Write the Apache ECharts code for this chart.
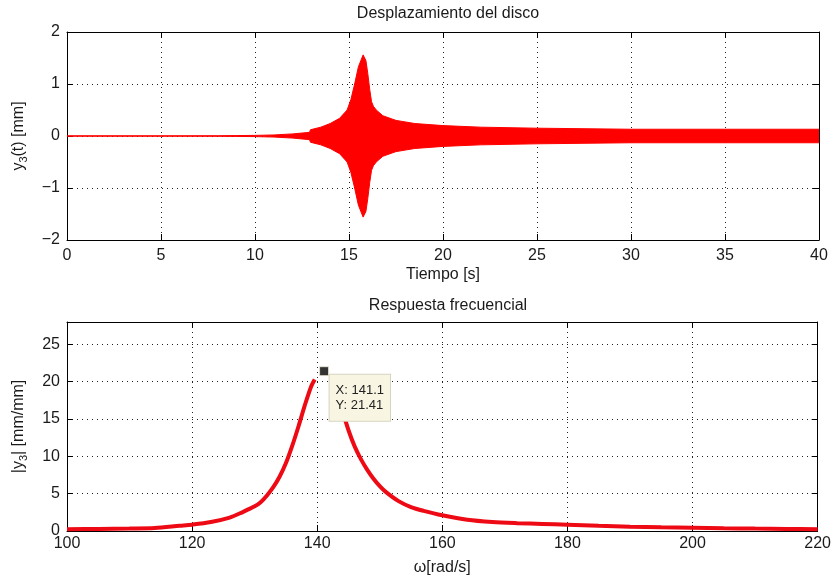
<!DOCTYPE html>
<html>
<head>
<meta charset="utf-8">
<script src="https://cdn.jsdelivr.net/npm/echarts@6/dist/echarts.min.js"></script>
<style>
html,body{margin:0;padding:0;background:#fff;}
#chart{width:834px;height:579px;}
</style>
</head>
<body>
<div id="chart"></div>
<script>
// ---- Top plot: envelope of the disc displacement y3(t) [mm] ----
const timeS = [0, 5, 8, 9, 10, 11, 12, 12.9, 12.95, 13.0, 13.5, 14.0, 14.5, 14.9, 15.1, 15.3, 15.5, 15.75, 15.9, 16.0, 16.1, 16.2, 16.3, 16.45, 16.8, 17.5, 18.5, 20, 22, 25, 30, 35, 40];
const envelopeMm = [0.003, 0.003, 0.005, 0.008, 0.012, 0.02, 0.04, 0.07, 0.12, 0.13, 0.17, 0.24, 0.34, 0.5, 0.7, 1.0, 1.33, 1.56, 1.45, 1.2, 0.9, 0.66, 0.57, 0.5, 0.39, 0.3, 0.24, 0.2, 0.17, 0.15, 0.13, 0.13, 0.13];

// ---- Bottom plot: frequency response |y3| [mm/mm] (visible trace; gap under the data tip) ----
const omega = [100, 105, 110, 114, 118, 120, 123, 126, 128, 130, 131, 132, 133, 134, 135, 136, 137, 138, 139, 139.6, 141.1, 142.5, 143, 144, 145, 146, 147, 148, 149, 150, 151, 153, 155, 157, 160, 164, 168, 172, 176, 180, 185, 190, 195, 200, 205, 210, 215, 220];
const magnitude = [0.23, 0.28, 0.33, 0.4, 0.7, 0.85, 1.2, 1.8, 2.5, 3.3, 3.9, 4.8, 5.9, 7.3, 9.1, 11.4, 14.0, 16.8, 19.3, 20.3, null, 19.9, 18.8, 16.2, 13.5, 11.3, 9.6, 8.2, 7.0, 6.0, 5.2, 4.0, 3.2, 2.7, 2.1, 1.5, 1.2, 1.05, 0.95, 0.85, 0.7, 0.58, 0.5, 0.45, 0.38, 0.32, 0.28, 0.23];

// ---- Data tip ----
const peakPoint = [141.1, 21.41];

// ---- Axis ranges ----
const timeAxis = {min: 0, max: 40, interval: 5};
const dispAxis = {min: -2, max: 2, interval: 1};
const omegaAxis = {min: 100, max: 220, interval: 20};
const magAxis = {min: 0, max: 28, interval: 5};

const FONT = 'Liberation Sans, Arial, sans-serif';
const TXT = '#1a1a1a';
const dots = {color: '#222', width: 1, type: [1, 4]};
const minusFmt = v => String(v).replace('-', '\u2212');

const upper = timeS.map((t, i) => [t, envelopeMm[i]]);
const lower = timeS.map((t, i) => [t, -envelopeMm[i]]);
const resp = omega.map((w, i) => [w, magnitude[i] === null ? '-' : magnitude[i]]);

function mainX(grid, rng, nameGap, name, margin) {
  return {
    type: 'value', gridIndex: grid, position: 'bottom',
    min: rng.min, max: rng.max, interval: rng.interval,
    name: name, nameLocation: 'middle', nameGap: nameGap,
    nameTextStyle: {fontFamily: FONT, fontSize: 16, color: TXT},
    axisLine: {show: true, onZero: false, lineStyle: {color: '#000', width: 1}},
    axisTick: {show: true, inside: true, length: 6, lineStyle: {color: '#000'}},
    axisLabel: {fontFamily: FONT, fontSize: 16, color: TXT, margin: margin},
    splitLine: {show: true, lineStyle: dots}
  };
}
function mirrorX(grid, rng) {
  return {
    type: 'value', gridIndex: grid, position: 'top',
    min: rng.min, max: rng.max, interval: rng.interval,
    axisLine: {show: true, onZero: false, lineStyle: {color: '#000', width: 1}},
    axisTick: {show: true, inside: true, length: 6, lineStyle: {color: '#000'}},
    axisLabel: {show: false}, splitLine: {show: false}
  };
}
function mainY(grid, rng, name, showMax) {
  return {
    type: 'value', gridIndex: grid, position: 'left',
    min: rng.min, max: rng.max, interval: rng.interval,
    name: name, nameLocation: 'middle', nameGap: 38, nameRotate: 90,
    nameTextStyle: {fontFamily: FONT, fontSize: 16, color: TXT,
      rich: {b: {fontFamily: FONT, fontSize: 16, color: TXT},
             s: {fontFamily: FONT, fontSize: 11, color: TXT, padding: [9, 0, 0, 0]}}},
    axisLine: {show: true, onZero: false, lineStyle: {color: '#000', width: 1}},
    axisTick: {show: true, inside: true, length: 6, lineStyle: {color: '#000'}},
    axisLabel: {fontFamily: FONT, fontSize: 16, color: TXT, margin: 7, showMaxLabel: showMax, formatter: minusFmt},
    splitLine: {show: true, lineStyle: dots}
  };
}
function mirrorY(grid, rng) {
  return {
    type: 'value', gridIndex: grid, position: 'right',
    min: rng.min, max: rng.max, interval: rng.interval,
    axisLine: {show: true, onZero: false, lineStyle: {color: '#000', width: 1}},
    axisTick: {show: true, inside: true, length: 6, lineStyle: {color: '#000'}},
    axisLabel: {show: false}, splitLine: {show: false}
  };
}

const chart = echarts.init(document.getElementById('chart'), null, {renderer: 'canvas'});
chart.setOption({
  animation: false,
  backgroundColor: '#fff',
  title: [
    {text: 'Desplazamiento del disco', left: 443, top: 1, textAlign: 'center',
     textStyle: {fontFamily: FONT, fontSize: 16, fontWeight: 'normal', color: TXT}},
    {text: 'Respuesta frecuencial', left: 443, top: 293, textAlign: 'center',
     textStyle: {fontFamily: FONT, fontSize: 16, fontWeight: 'normal', color: TXT}}
  ],
  grid: [
    {left: 67, top: 32, width: 752, height: 208, containLabel: false},
    {left: 67, top: 322, width: 752, height: 209, containLabel: false}
  ],
  xAxis: [
    mainX(0, timeAxis, 27, 'Tiempo [s]', 8),
    mirrorX(0, timeAxis),
    mainX(1, omegaAxis, 29, 'ω[rad/s]', 5),
    mirrorX(1, omegaAxis)
  ],
  yAxis: [
    mainY(0, dispAxis, '{b|y}{s|3}{b|(t) [mm]}', true),
    mirrorY(0, dispAxis),
    mainY(1, magAxis, '{b||y}{s|3}{b|| [mm/mm]}', false),
    mirrorY(1, magAxis)
  ],
  series: [
    {type: 'line', xAxisIndex: 0, yAxisIndex: 0, data: upper, showSymbol: false, symbol: 'none',
     lineStyle: {color: '#ff0000', width: 1}, areaStyle: {color: '#ff0000', opacity: 1}, z: 3},
    {type: 'line', xAxisIndex: 0, yAxisIndex: 0, data: lower, showSymbol: false, symbol: 'none',
     lineStyle: {color: '#ff0000', width: 1}, areaStyle: {color: '#ff0000', opacity: 1}, z: 3},
    {type: 'line', xAxisIndex: 2, yAxisIndex: 2, data: resp, showSymbol: false, symbol: 'none',
     connectNulls: false, smooth: 0.3, lineStyle: {color: '#ee0a14', width: 4}, z: 2},
    {type: 'scatter', xAxisIndex: 2, yAxisIndex: 2, data: [peakPoint], symbol: 'rect', symbolSize: 9,
     itemStyle: {color: '#000', borderColor: '#f5f3dc', borderWidth: 1}, z: 10}
  ]
});

// Data-tip box anchored to the peak point through the axes' own scales
const tipPx = chart.convertToPixel({xAxisIndex: 2, yAxisIndex: 2}, peakPoint);
chart.setOption({
  graphic: [{
    type: 'text', x: tipPx[0] + 5.5, y: tipPx[1] + 3.5, z: 100, zlevel: 2,
    style: {
      text: 'X: ' + peakPoint[0] + '\nY: ' + peakPoint[1],
      font: '13px Liberation Sans, Arial, sans-serif', fill: '#222', lineHeight: 15,
      backgroundColor: '#f8f6e2', borderColor: '#d6d4c0', borderWidth: 1,
      padding: [8, 6, 8, 6], align: 'left', verticalAlign: 'top'
    }
  }]
});
</script>
</body>
</html>
